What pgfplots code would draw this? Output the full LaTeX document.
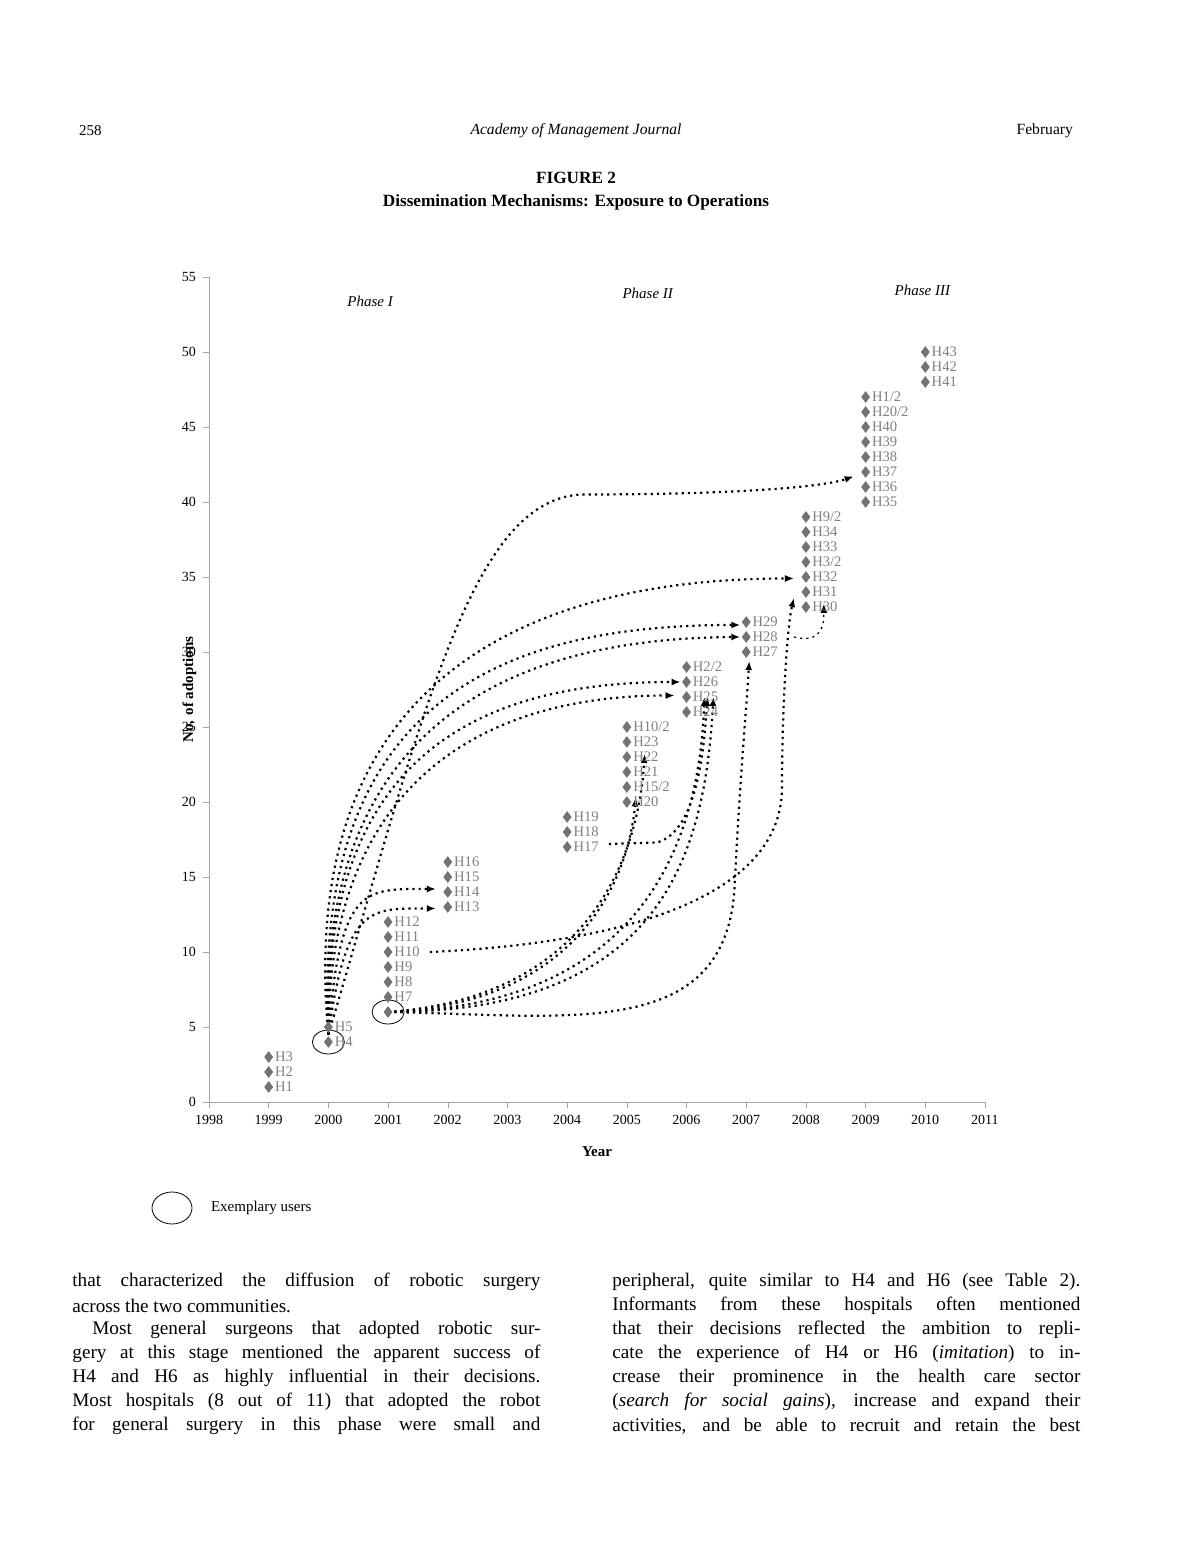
\documentclass[border=0pt]{standalone}
\usepackage{pgfplots}
\pgfplotsset{compat=1.18}
\usetikzlibrary{arrows.meta}
\usepackage{fontspec}
\setmainfont{Liberation Serif}
\begin{document}
\begin{tikzpicture}
\path[use as bounding box] (0,0) rectangle (594pt,774pt);
\begin{axis}[at={(104.5pt,223pt)},anchor=origin,scale only axis,
 width=388pt,height=412.5pt,xmin=1998,xmax=2011,ymin=0,ymax=55,
 xtick={1998,...,2011},ytick={0,5,...,55},axis lines=left,
 axis line style={gray!70,-},tick style={gray!70},tick align=outside,
 major tick length=3pt,
 /pgf/number format/assume math mode=true,
 xticklabel style={font=\fontsize{7}{8}\selectfont,/pgf/number format/1000 sep={}},
 yticklabel style={font=\fontsize{7}{8}\selectfont},
 xlabel={\textbf{Year}},ylabel={\textbf{No. of adoptions}},
 xlabel style={font=\fontsize{7.5}{9}\selectfont,yshift=-4pt},
 ylabel style={font=\fontsize{7.5}{9}\selectfont,yshift=-14pt},
 clip=false]
\addplot[only marks,mark=diamond*,mark size=2.6pt,color=black!55,
 point meta=explicit symbolic,nodes near coords,
 every node near coord/.style={anchor=west,xshift=2pt,inner sep=1pt,black!50,font=\fontsize{7.3}{8}\selectfont}]
coordinates {
(1999,1)[H1](1999,2)[H2](1999,3)[H3](2000,4)[H4](2000,5)[H5]
(2001,6)[\phantom{H}](2001,7)[H7](2001,8)[H8](2001,9)[H9](2001,10)[H10](2001,11)[H11](2001,12)[H12]
(2002,13)[H13](2002,14)[H14](2002,15)[H15](2002,16)[H16]
(2004,17)[H17](2004,18)[H18](2004,19)[H19]
(2005,20)[H20](2005,21)[H15/2](2005,22)[H21](2005,23)[H22](2005,24)[H23](2005,25)[H10/2]
(2006,26)[H24](2006,27)[H25](2006,28)[H26](2006,29)[H2/2]
(2007,30)[H27](2007,31)[H28](2007,32)[H29]
(2008,33)[H30](2008,34)[H31](2008,35)[H32](2008,36)[H3/2](2008,37)[H33](2008,38)[H34](2008,39)[H9/2]
(2009,40)[H35](2009,41)[H36](2009,42)[H37](2009,43)[H38](2009,44)[H39](2009,45)[H40](2009,46)[H20/2](2009,47)[H1/2]
(2010,48)[H41](2010,49)[H42](2010,50)[H43]};
\begin{scope}[line width=1.1pt,dotted,-{Latex[length=4.5pt,width=3.5pt]}]
\draw (axis cs:2000,4.5) .. controls (axis cs:2001.6,26) and (axis cs:2002.4,40.5) .. (axis cs:2004.3,40.5) .. controls (axis cs:2006.5,40.5) and (axis cs:2008.2,40.9) .. (axis cs:2008.8,41.7);
\draw (axis cs:2000,4.5) .. controls (axis cs:1999.4,30) and (axis cs:2004,34.9) .. (axis cs:2007.8,34.9);
\draw (axis cs:2000,4.5) .. controls (axis cs:1999.7,27) and (axis cs:2003,31.8) .. (axis cs:2006.9,31.8);
\draw (axis cs:2000,4.5) .. controls (axis cs:1999.8,25) and (axis cs:2003,30.9) .. (axis cs:2006.9,31);
\draw (axis cs:2000,4.5) .. controls (axis cs:1999.9,23) and (axis cs:2002.5,28) .. (axis cs:2005.9,28);
\draw (axis cs:2000,4.5) .. controls (axis cs:2000,21) and (axis cs:2002.5,27.1) .. (axis cs:2005.8,27.1);
\draw (axis cs:2000,4.5) .. controls (axis cs:2000.2,14.5) and (axis cs:2000.6,14.2) .. (axis cs:2001.8,14.2);
\draw (axis cs:2000,4.5) .. controls (axis cs:2000.3,13.2) and (axis cs:2000.7,12.9) .. (axis cs:2001.8,12.9);
\draw (axis cs:2001.7,10) .. controls (axis cs:2004.5,10.5) and (axis cs:2007.6,13) .. (axis cs:2007.6,21) .. controls (axis cs:2007.6,27) and (axis cs:2007.7,32) .. (axis cs:2007.8,33.6);
\draw (axis cs:2004.7,17.2) -- (axis cs:2005.5,17.3) .. controls (axis cs:2006.2,18) and (axis cs:2006.3,24) .. (axis cs:2006.35,27);
\draw[line width=0.6pt] (axis cs:2007.8,31) .. controls (axis cs:2008.3,30.5) and (axis cs:2008.3,32) .. (axis cs:2008.3,33.2);
\draw (axis cs:2001,6) .. controls (axis cs:2004,6.5) and (axis cs:2005,14) .. (axis cs:2005.15,20.3);
\draw (axis cs:2001,6) .. controls (axis cs:2004.5,7) and (axis cs:2005.2,17) .. (axis cs:2005.3,23.2);
\draw (axis cs:2001,6) .. controls (axis cs:2005,6.3) and (axis cs:2006.2,16) .. (axis cs:2006.3,27);
\draw (axis cs:2001,6) .. controls (axis cs:2005.5,6) and (axis cs:2006.3,16) .. (axis cs:2006.45,27);
\draw (axis cs:2001,6) .. controls (axis cs:2004,5.8) and (axis cs:2006.6,4) .. (axis cs:2006.8,14) .. controls (axis cs:2006.9,22) and (axis cs:2007,26) .. (axis cs:2007.05,29.4);
\end{scope}
\draw[thin] (axis cs:2000,4) ellipse [x radius=8pt,y radius=6pt];
\draw[thin] (axis cs:2001,6) ellipse [x radius=8pt,y radius=6pt];
\node[font=\itshape\fontsize{7.5}{9}\selectfont] at (axis cs:2000.7,53.4) {Phase I};
\node[font=\itshape\fontsize{7.5}{9}\selectfont] at (axis cs:2005.35,53.9) {Phase II};
\node[font=\itshape\fontsize{7.5}{9}\selectfont] at (axis cs:2009.95,54.1) {Phase III};
\end{axis}
\begin{scope}[x=0.5pt,y=-0.5pt,yshift=774pt,font=\fontsize{9.6}{11}\selectfont]
\node[anchor=west,font=\fontsize{7.5}{9}\selectfont] at (72,131) {258};
\node[font=\itshape\fontsize{7.8}{9}\selectfont] at (576,131) {Academy of Management Journal};
\node[anchor=east,font=\fontsize{7.8}{9}\selectfont] at (1080,131) {February};
\node[font=\bfseries\fontsize{8.6}{10}\selectfont] at (576,178) {FIGURE 2};
\node[font=\bfseries\fontsize{8.6}{10}\selectfont] at (576,202) {Dissemination Mechanisms: Exposure to Operations};
\draw[thin] (172,1208) ellipse [x radius=20,y radius=16];
\node[anchor=west,font=\fontsize{7.5}{9}\selectfont] at (204,1208) {Exemplary users};
\node[anchor=west,inner sep=0] at (72,1282) {\makebox[234pt][s]{that characterized the diffusion of robotic surgery}};
\node[anchor=west,inner sep=0] at (72,1306) {across the two communities.};
\node[anchor=west,inner sep=0] at (92,1330) {\makebox[224pt][s]{Most general surgeons that adopted robotic sur-}};
\node[anchor=west,inner sep=0] at (72,1354) {\makebox[234pt][s]{gery at this stage mentioned the apparent success of}};
\node[anchor=west,inner sep=0] at (72,1378) {\makebox[234pt][s]{H4 and H6 as highly influential in their decisions.}};
\node[anchor=west,inner sep=0] at (72,1402) {\makebox[234pt][s]{Most hospitals (8 out of 11) that adopted the robot}};
\node[anchor=west,inner sep=0] at (72,1426) {\makebox[234pt][s]{for general surgery in this phase were small and}};
\node[anchor=west,inner sep=0] at (612,1282) {\makebox[234pt][s]{peripheral, quite similar to H4 and H6 (see Table 2).}};
\node[anchor=west,inner sep=0] at (612,1306) {\makebox[234pt][s]{Informants from these hospitals often mentioned}};
\node[anchor=west,inner sep=0] at (612,1330) {\makebox[234pt][s]{that their decisions reflected the ambition to repli-}};
\node[anchor=west,inner sep=0] at (612,1354) {\makebox[234pt][s]{cate the experience of H4 or H6 (\textit{imitation}) to in-}};
\node[anchor=west,inner sep=0] at (612,1378) {\makebox[234pt][s]{crease their prominence in the health care sector}};
\node[anchor=west,inner sep=0] at (612,1402) {\makebox[234pt][s]{(\textit{search for social gains}), increase and expand their}};
\node[anchor=west,inner sep=0] at (612,1426) {\makebox[234pt][s]{activities, and be able to recruit and retain the best}};
\end{scope}
\end{tikzpicture}
\end{document}
